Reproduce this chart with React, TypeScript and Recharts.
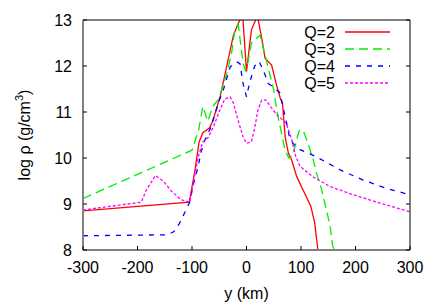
import React from 'react';
import { LineChart, Line, XAxis, YAxis, Legend } from 'recharts';

// ---- data ----
const xTicks = [-300, -200, -100, 0, 100, 200, 300];
const yTicks = [8, 9, 10, 11, 12, 13];
const seriesNames = ['Q=2', 'Q=3', 'Q=4', 'Q=5'];

const q2X = [-300, -105, -95, -87, -80, -68, -62, -48, -24, -15, -7, 0, 9, 20, 28, 34, 46, 55, 62, 66, 71, 77, 83, 92, 104, 118, 125, 131];
const q2Y = [8.85, 9.04, 9.7, 10.35, 10.55, 10.65, 10.8, 11.35, 12.67, 12.93, 13.1, 11.88, 12.78, 13.1, 12.6, 12.17, 12.02, 11.59, 11.3, 11.2, 10.45, 10.1, 9.95, 9.6, 9.3, 8.95, 8.6, 8.0];

const q3X = [-300, -100, -88, -80, -71, -62, -52, -36, -27, -21, -15, -11, -6, -2, 3, 9, 18, 25, 31, 40, 50, 56, 64, 71, 78, 85, 92, 97, 104, 112, 122, 129, 137, 145, 153, 158, 161];
const q3Y = [9.12, 10.17, 10.6, 11.12, 10.8, 11.12, 11.26, 11.84, 12.31, 12.82, 12.9, 12.5, 12.05, 11.9, 12.1, 12.5, 12.6, 12.67, 12.38, 11.95, 11.48, 11.0, 10.55, 10.15, 10.0, 10.05, 10.4, 10.6, 10.6, 10.35, 9.98, 9.65, 9.35, 8.95, 8.55, 8.1, 8.0];

const q4X = [-300, -145, -133, -123, -113, -104, -97, -89, -83, -76, -66, -58, -50, -42, -30, -18, -12, -6, 0, 6, 15, 23, 31, 40, 52, 61, 67, 73, 78, 85, 98, 115, 135, 172, 214, 257, 300];
const q4Y = [8.31, 8.33, 8.4, 8.58, 8.82, 9.05, 9.45, 9.8, 10.15, 10.4, 10.65, 10.95, 11.25, 11.5, 11.98, 12.09, 12.05, 11.6, 11.33, 11.65, 12.0, 12.1, 11.9, 11.62, 11.52, 11.42, 11.1, 10.8, 10.5, 10.32, 10.18, 10.1, 9.98, 9.74, 9.52, 9.34, 9.2];

const q5X = [-300, -193, -184, -167, -153, -137, -120, -104, -97, -88, -80, -70, -60, -49, -40, -30, -24, -15, -6, 0, 9, 15, 21, 28, 36, 45, 55, 64, 73, 83, 90, 98, 122, 153, 196, 245, 300];
const q5Y = [8.87, 9.04, 9.3, 9.62, 9.5, 9.27, 9.09, 9.04, 9.5, 10.05, 10.35, 10.45, 10.7, 11.04, 11.28, 11.33, 11.19, 10.8, 10.45, 10.32, 10.35, 10.65, 11.04, 11.26, 11.26, 11.1, 10.95, 10.85, 10.75, 10.4, 10.05, 9.82, 9.59, 9.38, 9.2, 9.02, 8.83];

const toPoints = (xs: number[], ys: number[]) => xs.map((x, i) => ({ x, y: ys[i] }));
const seriesData = [toPoints(q2X, q2Y), toPoints(q3X, q3Y), toPoints(q4X, q4Y), toPoints(q5X, q5Y)];

// ---- styles ----
const FONT = '"Liberation Sans", Arial, Helvetica, sans-serif';
const seriesStyles = [
  { color: '#ff0000', dash: undefined as string | undefined },
  { color: '#00ee00', dash: '9 5' },
  { color: '#0000ff', dash: '5 6' },
  { color: '#ff00ff', dash: '3 2' },
];
const TICK_LEN = 4;

const BottomTick = (props: any) => {
  const { x, y, payload } = props;
  return (
    <g>
      <line x1={x} y1={y} x2={x} y2={y - TICK_LEN} stroke="#000" strokeWidth={1} />
      <text x={x} y={y + 23} textAnchor="middle" fontSize={16} fontFamily={FONT} fill="#000">{payload.value}</text>
    </g>
  );
};
const TopTick = (props: any) => {
  const { x, y } = props;
  return <line x1={x} y1={y} x2={x} y2={y + TICK_LEN} stroke="#000" strokeWidth={1} />;
};
const LeftTick = (props: any) => {
  const { x, y, payload } = props;
  return (
    <g>
      <line x1={x} y1={y} x2={x + TICK_LEN} y2={y} stroke="#000" strokeWidth={1} />
      <text x={x - 11} y={y + 6} textAnchor="end" fontSize={16} fontFamily={FONT} fill="#000">{payload.value}</text>
    </g>
  );
};
const RightTick = (props: any) => {
  const { x, y } = props;
  return <line x1={x} y1={y} x2={x - TICK_LEN} y2={y} stroke="#000" strokeWidth={1} />;
};

const YLabel = (props: any) => {
  const vb = props.viewBox || {};
  const cx = (vb.x ?? 0) + 30;
  const cy = (vb.y ?? 0) + (vb.height ?? 0) / 2;
  return (
    <text x={cx} y={cy} transform={`rotate(-90 ${cx} ${cy})`} textAnchor="middle" fontSize={16} fontFamily={FONT} fill="#000">
      <tspan>log ρ (g/cm</tspan>
      <tspan dy={-7} fontSize={11}>3</tspan>
      <tspan dy={7}>)</tspan>
    </text>
  );
};
const XLabel = (props: any) => {
  const vb = props.viewBox || {};
  const cx = (vb.x ?? 0) + (vb.width ?? 0) / 2;
  const cy = (vb.y ?? 0) + 49;
  return (
    <text x={cx} y={cy} textAnchor="middle" fontSize={16} fontFamily={FONT} fill="#000">y (km)</text>
  );
};

const renderLegend = () => (
  <svg width={120} height={80} style={{ display: 'block' }}>
    {seriesNames.map((name, i) => {
      const cy = 10 + 17 * i;
      const st = seriesStyles[i];
      return (
        <g key={name}>
          <text x={45} y={cy + 6} textAnchor="end" fontSize={16} fontFamily={FONT} fill="#000">{name}</text>
          <line x1={55} y1={cy} x2={100} y2={cy} stroke={st.color} strokeWidth={1.3} strokeDasharray={st.dash} />
        </g>
      );
    })}
  </svg>
);

export default function App() {
  return (
    <div style={{ position: 'absolute', left: 0, top: 0, width: 436, height: 305, background: '#fff' }}>
      <LineChart width={436} height={305} margin={{ top: 0, right: 0, bottom: 0, left: 0 }}>
        <XAxis
          dataKey="x"
          type="number"
          domain={[-300, 300]}
          ticks={xTicks}
          allowDataOverflow
          height={55}
          tickSize={0}
          tickMargin={0}
          tick={<BottomTick />}
          axisLine={{ stroke: '#808080', strokeWidth: 2 }}
          tickLine={false}
          interval={0}
          label={<XLabel />}
        />
        <XAxis
          xAxisId="top"
          orientation="top"
          type="number"
          domain={[-300, 300]}
          ticks={xTicks}
          allowDataOverflow
          height={20}
          tickSize={0}
          tickMargin={0}
          tick={<TopTick />}
          axisLine={{ stroke: '#000', strokeWidth: 1 }}
          tickLine={false}
          interval={0}
        />
        <YAxis
          type="number"
          domain={[8, 13]}
          ticks={yTicks}
          allowDataOverflow
          width={83}
          tickSize={0}
          tickMargin={0}
          tick={<LeftTick />}
          axisLine={{ stroke: '#808080', strokeWidth: 2 }}
          tickLine={false}
          interval={0}
          label={<YLabel />}
        />
        <YAxis
          yAxisId="right"
          orientation="right"
          type="number"
          domain={[8, 13]}
          ticks={yTicks}
          allowDataOverflow
          width={26}
          tickSize={0}
          tickMargin={0}
          tick={<RightTick />}
          axisLine={{ stroke: '#000', strokeWidth: 1 }}
          tickLine={false}
          interval={0}
        />
        <Legend
          layout="vertical"
          align="center"
          verticalAlign="middle"
          content={renderLegend}
          wrapperStyle={{ left: 290, top: 22, width: 120, height: 80 }}
        />
        {seriesData.map((d, i) => (
          <Line
            key={seriesNames[i]}
            data={d}
            dataKey="y"
            name={seriesNames[i]}
            type="linear"
            stroke={seriesStyles[i].color}
            strokeWidth={1.3}
            strokeDasharray={seriesStyles[i].dash}
            dot={false}
            activeDot={false}
            isAnimationActive={false}
          />
        ))}
      </LineChart>
    </div>
  );
}
